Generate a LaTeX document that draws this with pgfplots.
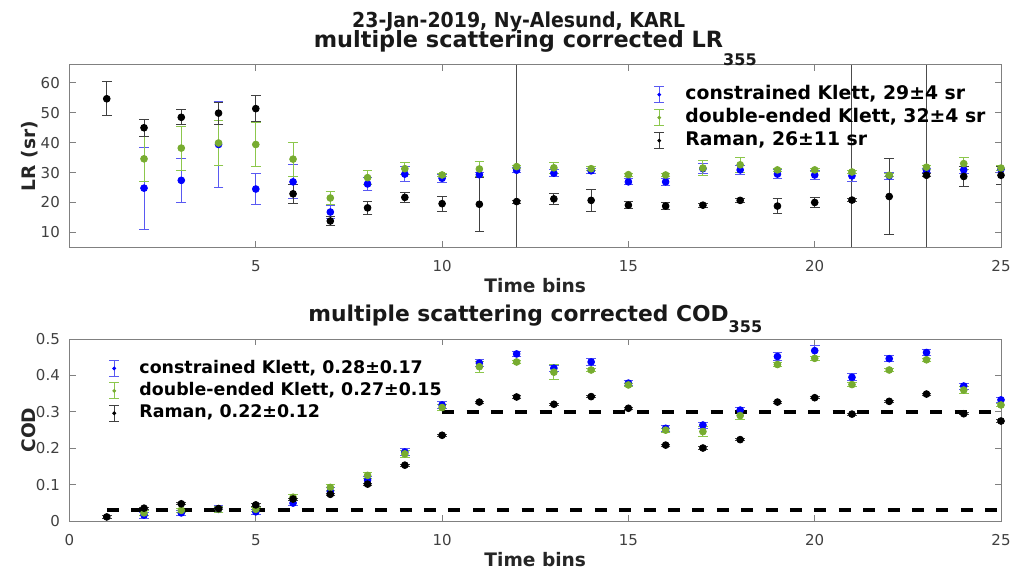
\documentclass[border=0pt]{standalone}
\usepackage{graphicx}
\usepackage{pgfplots}
\pgfplotsset{compat=1.18}
\usepackage{fontspec}
\setmainfont{DejaVu Sans}
\definecolor{mblue}{rgb}{0,0,1}
\definecolor{mblueE}{rgb}{0.35,0.35,0.95}
\definecolor{mgreen}{rgb}{0.466,0.674,0.188}
\definecolor{mgreenE}{rgb}{0.55,0.78,0.30}
\definecolor{mblackE}{rgb}{0.25,0.25,0.25}
\definecolor{axgray}{rgb}{0.5,0.5,0.5}
\definecolor{tickgray}{rgb}{0.25,0.25,0.25}

% ---------------- data: LR ----------------
\pgfplotstableread{
x y e
2 24.8 13.7
3 27.4 7.3
4 39.4 14.3
5 24.5 5.2
6 26.9 5.7
7 16.8 2.2
8 26.2 2.1
9 29.5 2.4
10 28.1 1.3
11 29.3 0.7
12 30.8 0.8
13 29.8 1.2
14 30.6 0.8
15 26.9 1.0
16 26.9 1.3
17 31.3 1.6
18 30.9 1.6
19 29.5 1.4
20 29.2 1.5
21 28.9 1.7
22 28.9 1.2
23 30.7 0.8
24 30.9 1.2
25 31.1 1.2
}\LRblue
\pgfplotstableread{
x y e
2 34.6 7.6
3 38.2 7.4
4 39.9 7.5
5 39.4 7.5
6 34.5 5.7
7 21.5 2.3
8 28.3 2.4
9 31.3 2.0
10 29.2 0.6
11 31.2 2.5
12 32.0 0.5
13 31.6 1.9
14 31.3 0.6
15 29.3 0.5
16 29.2 0.5
17 31.5 2.4
18 32.6 2.4
19 30.9 0.6
20 30.9 0.6
21 30.2 0.5
22 29.1 0.5
23 31.8 0.6
24 33.0 2.0
25 31.5 0.8
}\LRgreen
\pgfplotstableread{
x y e
1 54.7 5.7
2 45.0 2.9
3 48.5 2.5
4 49.9 3.7
5 51.4 4.4
6 22.9 3.2
7 13.8 1.4
8 18.2 2.2
9 21.7 1.6
10 19.6 2.5
11 19.4 9.1
12 20.3 0.5
13 21.2 1.8
14 20.7 3.7
15 19.1 1.1
16 18.8 1.3
17 19.1 0.6
18 20.7 0.8
19 18.8 2.5
20 20.0 1.6
21 20.8 0.5
22 22.0 12.7
23 29.1 0.5
24 28.7 3.3
25 29.1 3.0
}\LRblack
% ---------------- data: COD ----------------
\pgfplotstableread{
x y e
2 0.017 0.008
3 0.023 0.006
4 0.033 0.010
5 0.026 0.006
6 0.050 0.007
7 0.082 0.010
8 0.113 0.010
9 0.190 0.010
10 0.319 0.010
11 0.434 0.010
12 0.459 0.008
13 0.420 0.008
14 0.437 0.010
15 0.379 0.007
16 0.255 0.008
17 0.264 0.008
18 0.305 0.008
19 0.452 0.010
20 0.468 0.015
21 0.395 0.010
22 0.446 0.008
23 0.463 0.008
24 0.371 0.008
25 0.333 0.008
}\CODblue
\pgfplotstableread{
x y e
2 0.023 0.006
3 0.030 0.005
4 0.033 0.008
5 0.033 0.005
6 0.066 0.008
7 0.093 0.008
8 0.126 0.008
9 0.185 0.010
10 0.312 0.008
11 0.424 0.015
12 0.437 0.005
13 0.409 0.020
14 0.415 0.005
15 0.374 0.005
16 0.250 0.005
17 0.246 0.013
18 0.290 0.010
19 0.430 0.005
20 0.447 0.005
21 0.375 0.005
22 0.415 0.005
23 0.443 0.005
24 0.360 0.010
25 0.319 0.005
}\CODgreen
\pgfplotstableread{
x y e
1 0.012 0.003
2 0.036 0.003
3 0.048 0.003
4 0.035 0.003
5 0.045 0.003
6 0.061 0.003
7 0.074 0.003
8 0.102 0.003
9 0.154 0.003
10 0.236 0.003
11 0.327 0.003
12 0.341 0.003
13 0.321 0.003
14 0.342 0.003
15 0.310 0.003
16 0.209 0.003
17 0.201 0.003
18 0.224 0.003
19 0.327 0.003
20 0.339 0.003
21 0.294 0.003
22 0.329 0.003
23 0.349 0.003
24 0.295 0.003
25 0.275 0.003
}\CODblack

\pgfplotsset{
  myaxis/.style={
    scale only axis, width=465.75pt, height=91.15pt,
    xmin=0, xmax=25,
    axis line style={axgray, line width=0.5pt},
    every tick/.style={axgray, line width=0.5pt},
    major tick length=3pt,
    tick label style={font=\fontsize{7.5}{9}\selectfont, text=tickgray},
    /pgf/number format/assume math mode=true,
    xticklabel style={yshift=-3pt},
    yticklabel style={xshift=-1.3pt},
    label style={font=\bfseries\fontsize{9.3}{11}\selectfont, text=black!85},
    xlabel style={at={([yshift=-22.8pt]axis description cs:0.5,0)}, anchor=base},
    ylabel style={at={([xshift=-16.75pt]axis description cs:0,0.5)}, anchor=base},
    legend cell align=left,
    legend style={draw=none, fill=none, anchor=north west,
      font=\bfseries\fontsize{8.7}{10}\selectfont,
      nodes={inner sep=0pt, text height=6.3pt, text depth=1.7pt},
      row sep=2.75pt, column sep=10pt},
  },
  errleg/.style 2 args={legend image code/.code={
    \draw[#1, line width=0.45pt] (0pt,-4pt) -- (0pt,4pt)
       (-2.4pt,-4pt) -- (2.4pt,-4pt) (-2.4pt,4pt) -- (2.4pt,4pt);
    \fill[#2] (0pt,0pt) circle (0.75pt);
  }},
  ebar/.style={error bars/.cd, y dir=both, y explicit,
    error bar style={#1, line width=0.45pt},
    error mark options={rotate=90, #1, mark size=2.4pt, line width=0.45pt}},
}
\tikzset{ttl/.style={anchor=base, text=black!90}}

\begin{document}
\begin{tikzpicture}
\path[use as bounding box] (-34.75pt,32.5pt) rectangle (471.25pt,-253.5pt);

% ================= top =================
\begin{axis}[myaxis, name=top, at={(0,0)}, anchor=north west,
  ymin=5, ymax=66, ytick={10,20,30,40,50,60},
  xtick={5,10,15,20,25},
  xlabel={Time bins}, ylabel={LR (sr)},
  legend style={at={(0.6206,0.909)},
    font=\bfseries\fontsize{9.4}{11}\selectfont,
    nodes={inner sep=0pt, text height=6.8pt, text depth=1.8pt},
    row sep=2.9pt, column sep=10.5pt},
]
\addplot[forget plot, color=black!70, line width=0.5pt] coordinates {(12,5) (12,66)};
\addplot[forget plot, color=black!70, line width=0.5pt] coordinates {(21,5) (21,66)};
\addplot[forget plot, color=black!70, line width=0.5pt] coordinates {(23,5) (23,66)};
\addplot[only marks, mark=*, mark size=1.7pt, color=mblue, errleg={mblueE}{mblue}, ebar=mblueE]
  table[x=x, y=y, y error=e] {\LRblue};
\addlegendentry{constrained Klett, 29±4 sr}
\addplot[only marks, mark=*, mark size=1.7pt, color=mgreen, errleg={mgreenE}{mgreen}, ebar=mgreenE]
  table[x=x, y=y, y error=e] {\LRgreen};
\addlegendentry{double-ended Klett, 32±4 sr}
\addplot[only marks, mark=*, mark size=1.7pt, color=black, errleg={mblackE}{black}, ebar=mblackE]
  table[x=x, y=y, y error=e] {\LRblack};
\addlegendentry{Raman, 26±11 sr}
\end{axis}

% ================= bottom =================
\begin{axis}[myaxis, name=bot, at={(0,-137pt)}, anchor=north west,
  ymin=0, ymax=0.5, ytick={0,0.1,0.2,0.3,0.4,0.5},
  yticklabels={0,0.1,0.2,0.3,0.4,0.5},
  xtick={0,5,10,15,20,25},
  xlabel={Time bins}, ylabel={COD},
  legend style={at={(0.0355,0.909)}},
]
\addplot[only marks, mark=*, mark size=1.7pt, color=mblue, errleg={mblueE}{mblue}, ebar=mblueE]
  table[x=x, y=y, y error=e] {\CODblue};
\addlegendentry{constrained Klett, 0.28±0.17}
\addplot[only marks, mark=*, mark size=1.7pt, color=mgreen, errleg={mgreenE}{mgreen}, ebar=mgreenE]
  table[x=x, y=y, y error=e] {\CODgreen};
\addlegendentry{double-ended Klett, 0.27±0.15}
\addplot[only marks, mark=*, mark size=1.7pt, color=black, errleg={mblackE}{black}, ebar=mblackE]
  table[x=x, y=y, y error=e] {\CODblack};
\addlegendentry{Raman, 0.22±0.12}
\addplot[forget plot, black, line width=2pt, dash pattern=on 6pt off 6.2pt] coordinates {(1,0.03) (25,0.03)};
\addplot[forget plot, black, line width=2pt, dash pattern=on 6pt off 6.2pt] coordinates {(10,0.3) (25,0.3)};
\end{axis}

\node[ttl, font=\bfseries\fontsize{10.3}{12}\selectfont] at ([xshift=-8.25pt, yshift=18.7pt]top.north)
  {\scalebox{0.918}[1]{23-Jan-2019, Ny-Alesund, KARL}};
\node[ttl, font=\bfseries\fontsize{11.2}{13}\selectfont] at ([yshift=8.75pt]top.north)
  {multiple scattering corrected LR\raisebox{-9pt}{\fontsize{8}{9}\selectfont 355}};
\node[ttl, font=\bfseries\fontsize{10.9}{13}\selectfont] at ([yshift=8.65pt]bot.north)
  {multiple scattering corrected COD\raisebox{-5.5pt}{\fontsize{8}{9}\selectfont 355}};
\end{tikzpicture}
\end{document}
